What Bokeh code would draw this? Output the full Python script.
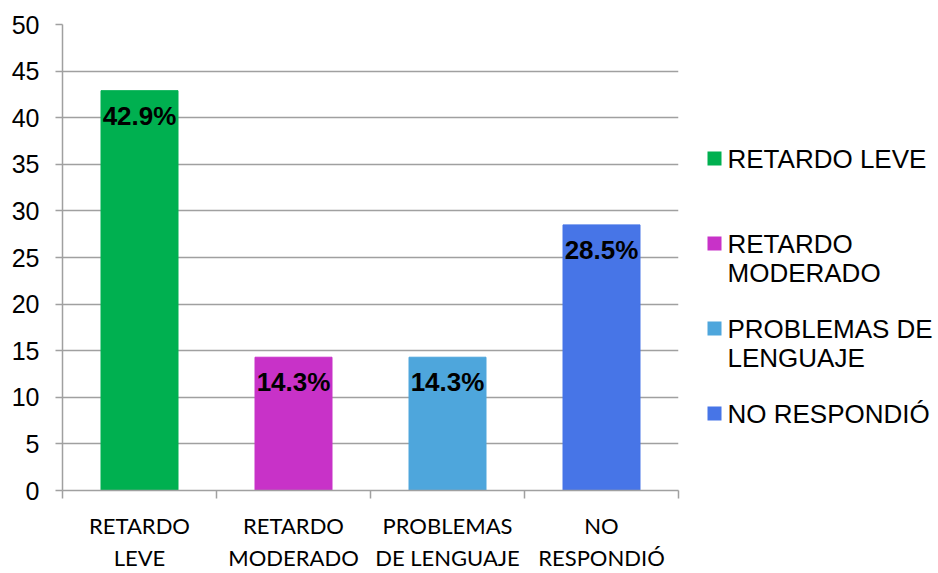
from bokeh.plotting import figure
from bokeh.models import Range1d, FixedTicker, ColumnDataSource
from bokeh.layouts import row
from bokeh.core.properties import value
from bokeh.embed import file_html
from bokeh.resources import INLINE

# ---- data ----
categories = ["RETARDO LEVE", "RETARDO MODERADO", "PROBLEMAS DE LENGUAJE", "NO RESPONDIÓ"]
axis_labels = ["RETARDO\nLEVE", "RETARDO\nMODERADO", "PROBLEMAS\nDE LENGUAJE", "NO\nRESPONDIÓ"]
legend_labels = ["RETARDO LEVE", "RETARDO\nMODERADO", "PROBLEMAS DE\nLENGUAJE", "NO RESPONDIÓ"]
values = [42.9, 14.3, 14.3, 28.5]
pct_labels = ["42.9%", "14.3%", "14.3%", "28.5%"]
colors = ["#00B050", "#C832C8", "#4EA6DC", "#4775E7"]
y_ticks = [0, 5, 10, 15, 20, 25, 30, 35, 40, 45, 50]

GRAY = "#a0a0a0"
H = 573

n = len(categories)
centers = [i + 0.5 for i in range(n)]
bounds = [float(i) for i in range(n + 1)]

p = figure(width=690, height=H, x_range=Range1d(0, n), y_range=Range1d(0, 50),
           output_backend="svg", toolbar_location=None,
           min_border_left=62, min_border_right=12, min_border_top=24, min_border_bottom=78)
p.outline_line_color = None
p.background_fill_color = "white"
p.border_fill_color = "white"

src = ColumnDataSource(dict(x=centers, top=values, color=colors, lab=pct_labels))
p.vbar(x="x", top="top", width=0.5, color="color", source=src)
p.text(x="x", y="top", text="lab", source=src, text_align="center", text_baseline="middle",
       y_offset=25, text_font=value("Liberation Sans"), text_font_style="bold",
       text_font_size="26px", text_color="black")

p.xgrid.visible = False
p.ygrid.grid_line_color = GRAY
p.ygrid.grid_line_width = 1.5
p.ygrid.ticker = FixedTicker(ticks=y_ticks)

ya = p.yaxis[0]
ya.ticker = FixedTicker(ticks=y_ticks, minor_ticks=[])
ya.axis_line_color = GRAY
ya.axis_line_width = 1.5
ya.major_tick_line_color = GRAY
ya.major_tick_line_width = 1.5
ya.major_tick_out = 7
ya.major_tick_in = 0
ya.minor_tick_line_color = None
ya.major_label_text_font = "Liberation Sans"
ya.major_label_text_font_size = "25px"
ya.major_label_text_color = "black"
ya.major_label_standoff = 16

xa = p.xaxis[0]
xa.ticker = FixedTicker(ticks=centers, minor_ticks=bounds)
xa.major_label_overrides = {c: l for c, l in zip(centers, axis_labels)}
xa.axis_line_color = GRAY
xa.axis_line_width = 1.5
xa.major_tick_line_color = None
xa.major_tick_out = 0
xa.major_tick_in = 0
xa.minor_tick_line_color = GRAY
xa.minor_tick_line_width = 1.5
xa.minor_tick_out = 8
xa.minor_tick_in = 0
xa.major_label_text_font = "Lato"
xa.major_label_text_font_size = "22px"
xa.major_label_text_color = "black"
xa.major_label_standoff = 13

# ---- legend panel ----
LW = 248
lg = figure(width=LW, height=H, x_range=Range1d(0, LW), y_range=Range1d(H, 0),
            output_backend="svg", toolbar_location=None,
            x_axis_type=None, y_axis_type=None,
            min_border_left=0, min_border_right=0, min_border_top=0, min_border_bottom=0)
lg.outline_line_color = None
lg.xgrid.visible = False
lg.ygrid.visible = False
for fig in (p, lg):
    if "frame_align" in fig.properties():
        fig.frame_align = False

first_y = 158
step = 85
line_h = 29
mk_x, tx_x = 24, 37
mx, my, mc = [], [], []
tx, ty, tt = [], [], []
for i, (lab, col) in enumerate(zip(legend_labels, colors)):
    yc = first_y + i * step
    mx.append(mk_x); my.append(yc); mc.append(col)
    for j, line in enumerate(lab.split("\n")):
        tx.append(tx_x); ty.append(yc + j * line_h); tt.append(line)

lg.scatter(x=mx, y=my, marker="square", size=14, color=mc, line_color=None)
lg.text(x=tx, y=ty, text=tt, text_align="left", text_baseline="middle",
        text_font=value("Liberation Sans"), text_font_size="26px", text_color="black")

layout = row(p, lg)
open("out.html", "w").write(file_html(layout, INLINE))
